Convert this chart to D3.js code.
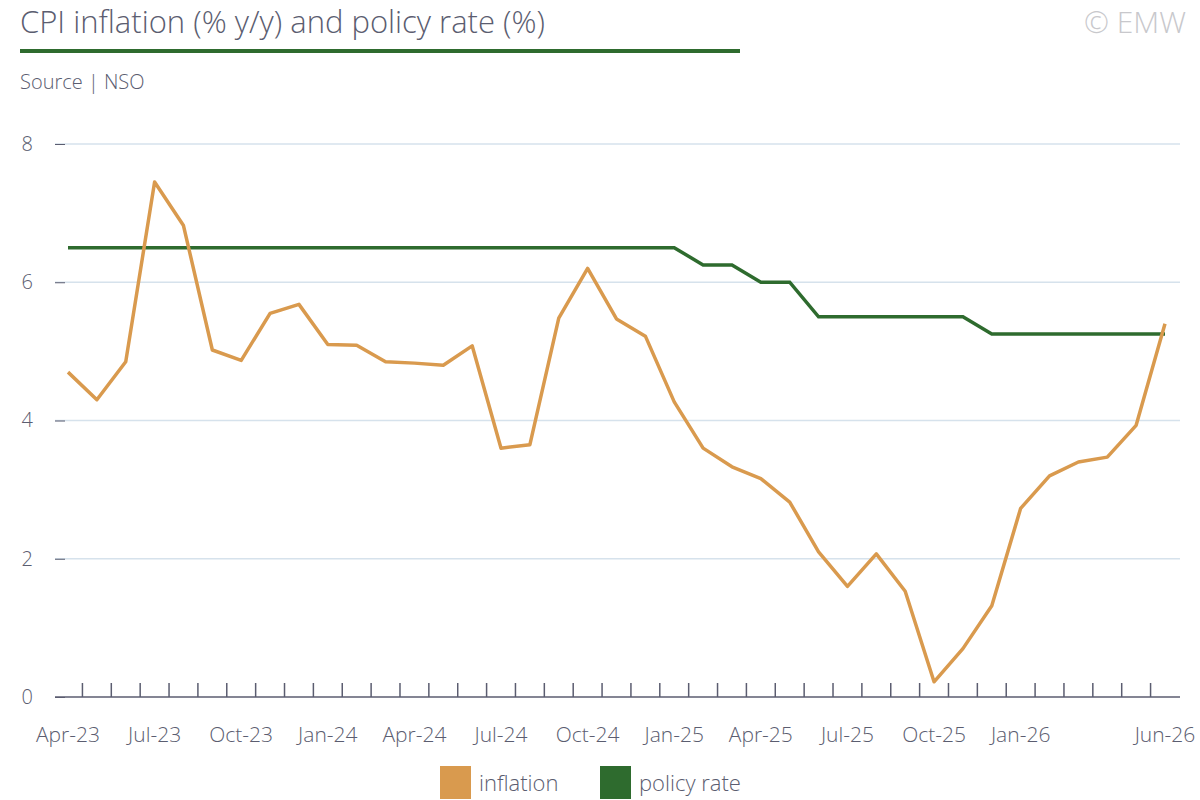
<!DOCTYPE html>
<html><head><meta charset="utf-8">
<script src="https://cdn.jsdelivr.net/npm/d3@7"></script>
<style>body{margin:0;background:#fff;font-family:"Open Sans",sans-serif;}</style>
</head><body>
<svg id="c" width="1200" height="800"></svg>
<script>
// ─── Data ───────────────────────────────────────────
const months = ['Apr-23','May-23','Jun-23','Jul-23','Aug-23','Sep-23','Oct-23','Nov-23','Dec-23',
  'Jan-24','Feb-24','Mar-24','Apr-24','May-24','Jun-24','Jul-24','Aug-24','Sep-24','Oct-24','Nov-24','Dec-24',
  'Jan-25','Feb-25','Mar-25','Apr-25','May-25','Jun-25','Jul-25','Aug-25','Sep-25','Oct-25','Nov-25','Dec-25',
  'Jan-26','Feb-26','Mar-26','Apr-26','May-26','Jun-26'];
const inflation = [4.7,4.3,4.85,7.45,6.82,5.02,4.87,5.55,5.68,5.1,5.09,4.85,4.83,4.8,5.08,3.6,3.65,5.48,6.2,5.47,5.22,
  4.27,3.6,3.33,3.16,2.82,2.1,1.6,2.07,1.53,0.22,0.7,1.32,2.73,3.2,3.4,3.47,3.93,5.4];
const policyRate = [6.5,6.5,6.5,6.5,6.5,6.5,6.5,6.5,6.5,6.5,6.5,6.5,6.5,6.5,6.5,6.5,6.5,6.5,6.5,6.5,6.5,
  6.5,6.25,6.25,6.0,6.0,5.5,5.5,5.5,5.5,5.5,5.5,5.25,5.25,5.25,5.25,5.25,5.25,5.25];
const xLabels = ['Apr-23','Jul-23','Oct-23','Jan-24','Apr-24','Jul-24','Oct-24','Jan-25','Apr-25','Jul-25','Oct-25','Jan-26','Jun-26'];
const yTicks = [0,2,4,6,8];

const svg = d3.select('#c');
const textCol = '#5b5d70';
const plotLeft = 55, plotRight = 1180, plotTop = 144, plotBottom = 697;

const x = d3.scalePoint().domain(months).range([68, 1165]);
const y = d3.scaleLinear().domain([0, 8]).range([plotBottom, plotTop]);

// ─── Header ─────────────────────────────────────────
svg.append('text').attr('x', 20).attr('y', 33).attr('font-size', 31).attr('font-weight', 300)
  .attr('fill', textCol).text('CPI inflation (% y/y) and policy rate (%)');
svg.append('rect').attr('x', 20).attr('y', 49).attr('width', 720).attr('height', 4).attr('fill', '#2e6b2e');
svg.append('text').attr('x', 20).attr('y', 89).attr('font-size', 20).attr('font-weight', 300)
  .attr('fill', textCol).text('Source | NSO');
svg.append('text').attr('x', 1084).attr('y', 33).attr('font-size', 30).attr('font-weight', 300)
  .attr('fill', '#c8c8cc').text('© EMW');

// ─── Grid & axes ────────────────────────────────────
svg.append('g').selectAll('line').data(yTicks.filter(d => d > 0)).join('line')
  .attr('x1', plotLeft).attr('x2', plotRight).attr('y1', d => y(d)).attr('y2', d => y(d))
  .attr('stroke', '#d6e2ec').attr('stroke-width', 1.5);

const yAxis = svg.append('g').attr('transform', `translate(${plotLeft},0)`)
  .call(d3.axisLeft(y).tickValues(yTicks).tickSize(-10).tickPadding(22));
yAxis.select('.domain').remove();
yAxis.selectAll('line').attr('stroke', textCol);
yAxis.selectAll('text').attr('font-size', 20).attr('font-weight', 300).attr('fill', textCol)
  .attr('font-family', '"Open Sans",sans-serif');

const step = x.step();
const edges = months.slice(0, -1).map(m => x(m) + step / 2);
svg.append('g').selectAll('line').data(edges).join('line')
  .attr('x1', d => d).attr('x2', d => d).attr('y1', plotBottom - 14).attr('y2', plotBottom)
  .attr('stroke', textCol).attr('stroke-width', 1.5);
svg.append('line').attr('x1', plotLeft).attr('x2', plotRight).attr('y1', plotBottom).attr('y2', plotBottom)
  .attr('stroke', textCol).attr('stroke-width', 1.5);
svg.append('g').selectAll('text').data(xLabels).join('text')
  .attr('x', d => x(d)).attr('y', 742).attr('text-anchor', 'middle')
  .attr('font-size', 21).attr('font-weight', 300).attr('fill', textCol).text(d => d);

// ─── Lines ──────────────────────────────────────────
const line = d3.line().x((d, i) => x(months[i])).y(d => y(d));
svg.append('path').datum(policyRate).attr('d', line).attr('fill', 'none')
  .attr('stroke', '#2e6b2e').attr('stroke-width', 3.5);
svg.append('path').datum(inflation).attr('d', line).attr('fill', 'none')
  .attr('stroke', '#d99a4e').attr('stroke-width', 3.5).attr('stroke-linejoin', 'round');

// ─── Legend ─────────────────────────────────────────
const legend = [{ name: 'inflation', color: '#d99a4e', x: 440 }, { name: 'policy rate', color: '#2e6b2e', x: 600 }];
const lg = svg.append('g').selectAll('g').data(legend).join('g');
lg.append('rect').attr('x', d => d.x).attr('y', 766).attr('width', 31).attr('height', 33).attr('fill', d => d.color);
lg.append('text').attr('x', d => d.x + 39).attr('y', 791).attr('font-size', 22).attr('font-weight', 300)
  .attr('fill', textCol).text(d => d.name);
</script>
</body></html>
